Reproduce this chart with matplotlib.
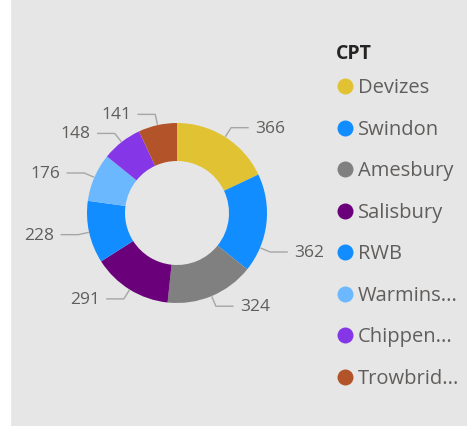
import numpy as np
import matplotlib.pyplot as plt
from matplotlib.patches import Rectangle
from matplotlib.lines import Line2D

plt.rcParams['font.family'] = ['Open Sans', 'DejaVu Sans']

# data
categories = ['Devizes', 'Swindon', 'Amesbury', 'Salisbury', 'RWB',
              'Warminster', 'Chippenham', 'Trowbridge']
legend_labels = ['Devizes', 'Swindon', 'Amesbury', 'Salisbury', 'RWB',
                 'Warmins...', 'Chippen...', 'Trowbrid...']
counts = [366, 362, 324, 291, 228, 176, 148, 141]
colors = ['#E1C233', '#118DFF', '#808080', '#6B007B', '#118DFF',
          '#6CB8FF', '#8536E6', '#B3532A']

W, H = 467, 426
fig = plt.figure(figsize=(W / 100, H / 100), dpi=100, facecolor='#E6E6E6')
# thin white strip on the left edge
fig.patches.append(Rectangle((0, 0), 10 / W, 1, transform=fig.transFigure,
                             color='white', zorder=0))

ax = fig.add_axes([0, 0, 1, 1])
ax.set_facecolor('none')
cx, cy, r = 177, H - 213, 90
wedges, _ = ax.pie(counts, colors=colors, startangle=90, counterclock=False,
                   radius=r, center=(cx, cy),
                   wedgeprops=dict(width=38, linewidth=0))
ax.set_xlim(0, W)
ax.set_ylim(0, H)
ax.axis('off')

# data labels with leader lines
label_shift = {1: -16}  # Swindon label sits a bit lower
for i, (w, v) in enumerate(zip(wedges, counts)):
    ang = np.deg2rad((w.theta1 + w.theta2) / 2 + label_shift.get(i, 0))
    x0, y0 = cx + (r + 1) * np.cos(ang), cy + (r + 1) * np.sin(ang)
    x1, y1 = cx + (r + 11) * np.cos(ang), cy + (r + 11) * np.sin(ang)
    side = 1 if np.cos(ang) >= 0 else -1
    x2 = x1 + side * 17
    ax.plot([x0, x1, x2], [y0, y1, y1], color='#A6A6A6', lw=1)
    ax.text(x2 + side * 7, y1 - 1, str(v), ha='left' if side > 0 else 'right',
            va='center', fontsize=12.5, color='#605E5C')

# legend
fig.text(336 / W, 1 - 54 / H, 'CPT', fontsize=14, fontweight='bold',
         color='#252423', ha='left', va='center')
handles = [Line2D([], [], marker='o', ls='none', markersize=11.5,
                  markerfacecolor=c, markeredgewidth=0) for c in colors]
leg = fig.legend(handles, legend_labels, loc='upper left',
                 bbox_to_anchor=(336 / W, 1 - 77 / H), frameon=False,
                 fontsize=14.5, labelcolor='#605E5C', handlelength=0.8,
                 handletextpad=0.25, labelspacing=1.07, borderpad=0.05,
                 borderaxespad=0)

fig.savefig('out.png', dpi=100, facecolor=fig.get_facecolor())
